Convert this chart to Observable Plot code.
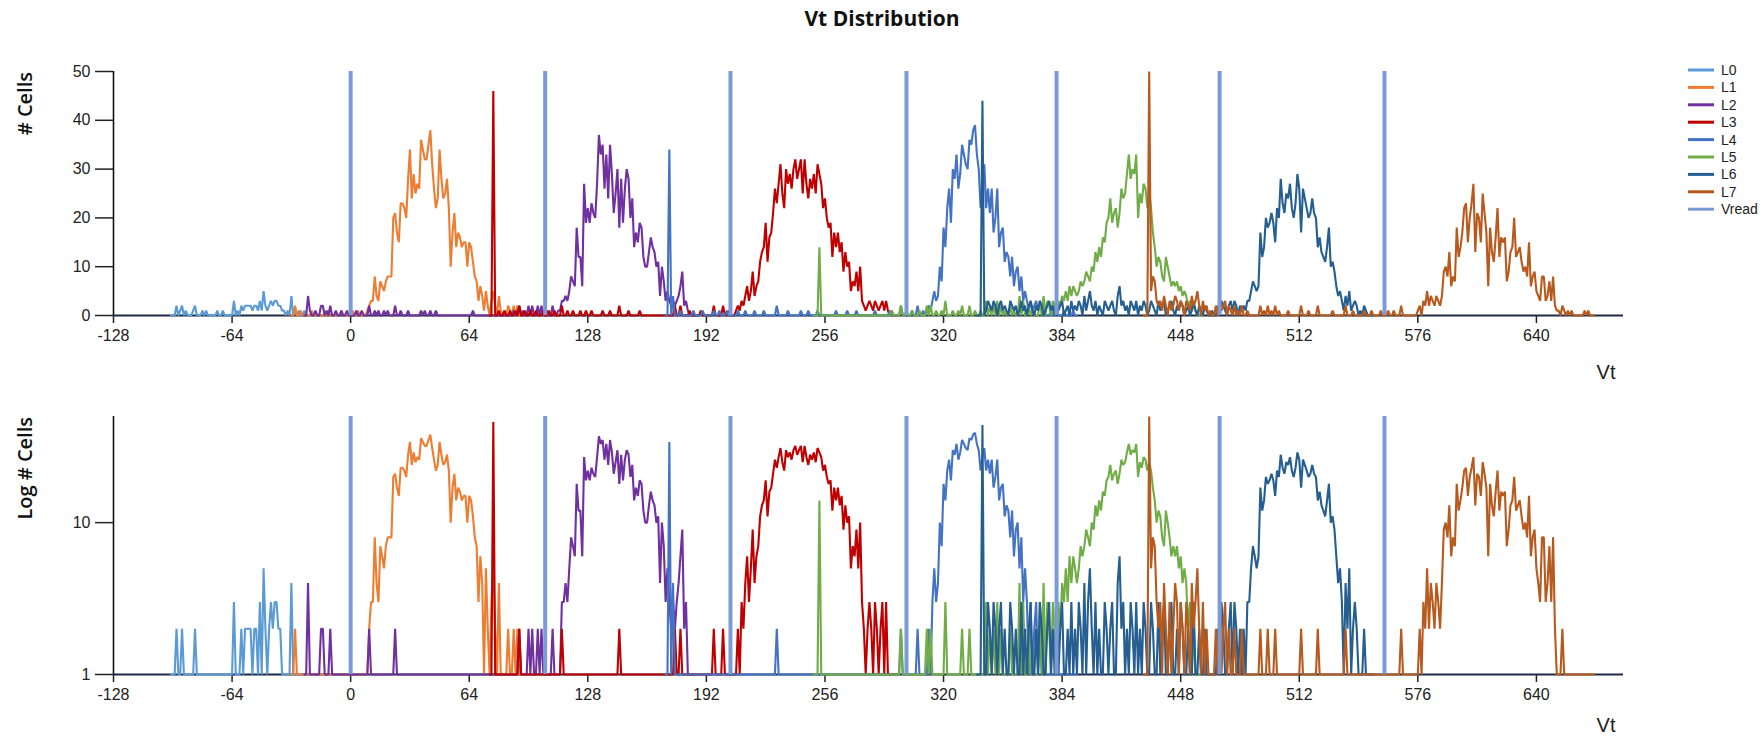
<!DOCTYPE html>
<html>
<head>
<meta charset="utf-8">
<script src="https://cdn.jsdelivr.net/npm/d3@7"></script>
<script src="https://cdn.jsdelivr.net/npm/@observablehq/plot@0.6"></script>
<style>
  body { margin: 0; background: #fff; }
  #wrap { position: relative; width: 1764px; height: 738px; overflow: hidden; background: #fff; }
  #top, #bot, #overlay { position: absolute; left: 0; }
  #top { top: 0; }
  #bot { top: 380px; }
  #overlay { top: 0; pointer-events: none; }
</style>
</head>
<body>
<div id="wrap"><div id="top"></div><div id="bot"></div><div id="overlay"></div></div>
<script>
// ---------------- DATA ----------------
const titleText = "Vt Distribution";
const yLabelTop = "# Cells";
const yLabelBottom = "Log # Cells";
const xLabel = "Vt";
const xTicks = [-128, -64, 0, 64, 128, 192, 256, 320, 384, 448, 512, 576, 640];
const yTicksLinear = [0, 10, 20, 30, 40, 50];
const yTicksLog = [1, 10];
const levels = ["L0", "L1", "L2", "L3", "L4", "L5", "L6", "L7"];
const levelColors = ["#5b9bd5", "#ed7d31", "#7030a0", "#c00000", "#4472c4", "#70ad47", "#255e91", "#b85a1e"];
const vreadName = "Vread";
const vreadColor = "#7b9bd6";
const vreadPositions = [0, 105, 205, 300, 381, 469, 558];

// each level: range of Vt, dense counts (start, values), isolated counts [vt, count]
const L0_range = [-97, -22];
const L0_start = -95;
const L0_counts = [0,2,0,1,2,0,1,0,0,0, 1,2,0,0,0,1,0,1,0,0, 0,0,0,1,0,0,1,0,0,0,
  0,0,3,0,1,0,2,1,2,2, 2,2,1,2,2,1,3,1,5,2, 1,2,3,2,3,3,2,2,1,1, 0,1,0,4,0,1,0,1,0,0, 1,0];
const L0_isolated = [];

const L1_range = [-32, 94];
const L1_start = 8;
const L1_counts = [0,1,2,3,3,8,4,3,7,6, 5,7,8,8,8,20,21,17,15,23, 23,22,20,28,34,24,29,25,27,26,
  36,34,32,32,35,38,31,26,22,24, 34,28,24,25,28,22,10,17,21,14, 17,16,14,15,15,10,15,14,11,8,
  7,3,6,4,1,5,2,0,3,5, 2,0,4,1,0,1,0,2,1,0, 2,0,2,0,0];
const L1_isolated = [[-30,2],[-27,1],[-21,1],[-12,1],[-5,1],[1,1],[4,1]];

const L2_range = [-25, 186];
const L2_start = 112;
const L2_counts = [1,1,3,3,4,3,5,8,7,6, 18,12,12,6,27,19,22,19,23,21, 20,27,37,33,35,26,33,24,35,29,
  21,25,30,18,28,19,26,30,28,20, 24,14,17,15,19,18,12,10,10,13, 16,14,13,10,11,4,10,7,3,5,
  3,2,3,2,3,4,6,9,2,3, 1,0];
const L2_isolated = [[-23,4],[-22,1],[-19,1],[-16,2],[-15,2],[-13,1],[-11,2],[-8,1],[-5,1],[-2,1],
  [3,1],[6,1],[10,2],[13,1],[15,1],[18,1],[20,1],[24,2],[27,1],[31,1],[38,1],[40,1],[43,1],[46,1],
  [66,1],[88,1],[91,2],[93,1],[96,2],[98,2],[101,2],[103,2],[106,1],[109,2]];

const L3_range = [75, 295];
const L3_start = 207;
const L3_counts = [0,1,2,1,3,2,4,6,3,5, 9,4,6,7,11,13,14,19,11,16, 17,21,26,23,27,31,25,22,30,27,
  29,26,30,32,28,30,32,25,32,27, 24,28,26,29,25,31,29,27,22,24, 20,18,19,12,17,14,17,13,15,9,
  13,10,11,5,7,6,9,5,10,3, 2,1,2,3,2,1,3,2,1,2, 3,1,3,1,0,1,0];
const L3_isolated = [[77,46],[80,1],[83,1],[86,1],[89,1],[91,2],[94,1],[97,1],[100,1],[104,1],
  [107,1],[110,1],[114,2],[117,1],[120,1],[124,1],[127,1],[130,1],[136,1],[140,1],[145,2],[150,1],
  [156,1],[175,2],[178,2],[183,1],[189,1],[196,2],[201,2],[204,1]];

const L4_range = [170, 392];
const L4_start = 309;
const L4_counts = [1,0,1,2,1,3,5,3,4,10, 7,18,14,22,26,19,30,28,33,26, 29,35,33,31,30,36,35,38,39,33,
  30,22,27,31,22,26,21,26,17,20, 26,14,17,18,11,13,12,8,12,6, 9,10,5,8,3,5,3,1,3,1, 2,3,1,2,1,2,0];
const L4_isolated = [[172,34],[174,4],[178,1],[185,1],[190,1],[196,1],[199,1],[203,1],[209,1],
  [213,1],[218,1],[223,1],[230,2],[236,1],[243,1],[247,1],[252,1],[262,1],[268,1],[273,1],[283,1],
  [291,1],[297,2],[303,1],[306,2],[378,1],[381,2],[385,1],[390,1]];

const L5_range = [250, 460];
const L5_start = 379;
const L5_counts = [3,2,1,3,2,4,3,5,3,6, 4,6,5,4,5,7,6,7,9,8, 7,10,9,13,11,14,12,16,15,19,
  20,24,19,21,22,18,21,26,24,25, 29,33,28,30,29,33,20,25,23,27, 26,22,25,22,17,14,10,12,11,8,
  7,12,10,8,6,7,6,7,5,6, 4,5,4,2,3,1,2,1,0];
const L5_isolated = [[253,14],[292,1],[297,2],[300,1],[303,1],[307,1],[311,2],[313,2],[316,1],
  [319,1],[321,3],[325,1],[328,1],[330,2],[334,2],[337,1],[340,1],[343,3],[345,2],[347,2],[349,3],
  [351,2],[353,1],[356,2],[358,1],[361,4],[363,3],[366,2],[368,1],[372,3],[374,4],[376,3],[377,2]];

const L6_range = [338, 552];
const L6_start = 342;
const L6_counts = [0,1,3,2,1,3,2,0,2,3, 1,2,1,0,3,2,1,2,0,1, 3,1,2,0,2,3,1,0,2,1,
  3,2,0,1,2,3,1,2,0,3, 1,2,3,0,1,2,0,3,1,2, 1,3,2,0,4,1,3,5,2,1, 3,0,2,1,0,3,2,1,2,3,
  1,0,4,6,2,3,1,2,0,3, 2,1,3,0,2,1,3,2,0,1, 3,2,1,0,3,1,2,3,0,1, 2,3,1,0,2,1,3,2,0,1,
  2,0,1,3,1,0,2,1,0,2, 1,0,0,1,0,0,2,0,3,2, 1,0,2,3,1,3,2,0,2,1, 2,
  1,3,3,5,7,6,5,6,17, 12,14,20,18,19,21,19,15,22,20, 28,23,21,25,24,27,22,20,23,29,
  26,17,26,24,22,20,21,24,21,20, 14,16,13,12,11,14,18,10,11,9, 6,4,5,3,1,4,2,5,1,2, 3,2,0,1,0,2,1,0];
const L6_isolated = [[341,44]];

const L7_range = [428, 671];
const L7_start = 431;
const L7_counts = [50,5,8,7,3,2,3,1,4,2, 0,3,1,2,4,3,1,3,2,0, 3,2,1,4,2,3,5,2,0,3,
  1,2,0,1,0,0,2,0,3,1, 2,3,0,2,1,0,2,0,1,0, 2,0,0,1];
const L7_body_start = 576;
const L7_body = [1,2,0,3,2,5,2,4,3,2, 4,3,2,4,9,10,8,13,6,8, 7,18,12,14,17,22,23,15,20,23,
  27,13,21,20,15,25,21,17,6,18, 13,11,16,22,12,16,15,16,7,9, 13,14,20,12,13,14,11,9,10,8,
  15,6,8,9,5,4,3,8,8,3, 4,7,3,8,2,1,1,0,2,1, 0,1,0,1,0,0,0,0,0,0, 1,0,1,0];
const L7_isolated = [[491,2],[493,1],[495,2],[497,1],[499,2],[501,1],[506,1],[513,2],[517,1],
  [522,2],[530,1],[537,2],[541,1],[547,1],[551,1],[556,1],[560,1],[563,1],[567,2]];

// ---------------- TABLE ----------------
function build(name, range, segments, isolated) {
  const m = new Map();
  for (const [start, vals] of segments) vals.forEach((v, i) => m.set(start + i, v));
  for (const [x, v] of isolated) m.set(x, v);
  const out = [];
  for (let x = range[0]; x <= range[1]; x++) out.push({level: name, vt: x, count: m.has(x) ? m.get(x) : 0});
  return out;
}
const seriesRows = [
  build("L0", L0_range, [[L0_start, L0_counts]], L0_isolated),
  build("L1", L1_range, [[L1_start, L1_counts]], L1_isolated),
  build("L2", L2_range, [[L2_start, L2_counts]], L2_isolated),
  build("L3", L3_range, [[L3_start, L3_counts]], L3_isolated),
  build("L4", L4_range, [[L4_start, L4_counts]], L4_isolated),
  build("L5", L5_range, [[L5_start, L5_counts]], L5_isolated),
  build("L6", L6_range, [[L6_start, L6_counts]], L6_isolated),
  build("L7", L7_range, [[L7_start, L7_counts], [L7_body_start, L7_body]], L7_isolated)
];

const W = 1764;
const common = {
  width: W,
  marginLeft: 113,
  marginRight: 141,
  x: {domain: [-128, 687]},
  color: {domain: levels, range: levelColors},
  style: {fontFamily: "'Liberation Sans', Arial, sans-serif", fontSize: "16px", color: "#222", background: "transparent", overflow: "visible"}
};

function panel(isLog) {
  const yBase = isLog ? 1 : 0;
  const marks = [
    Plot.axisX({ticks: xTicks, tickSize: 8, tickPadding: 6, tickFormat: d => String(d), label: null, strokeWidth: 1.5}),
    Plot.axisY({ticks: isLog ? yTicksLog : yTicksLinear, tickSize: 18, tickPadding: 5, tickFormat: d => String(d), label: null, strokeWidth: 1.5}),
    Plot.ruleX([-128], {y1: yBase, y2: 50, stroke: "#111", strokeWidth: 1.6}),
    Plot.ruleY([yBase], {stroke: "#1c2a44", strokeWidth: 2})
  ];
  seriesRows.forEach((rows, i) => {
    marks.push(Plot.line(rows, {
      x: "vt",
      y: d => isLog ? Math.max(d.count, 1) : d.count,
      stroke: () => levels[i],
      strokeWidth: 2.1,
      strokeLinejoin: "miter",
      curve: "linear"
    }));
  });
  marks.push(Plot.ruleX(vreadPositions, {y1: yBase, y2: 50, stroke: vreadColor, strokeWidth: 4}));
  return Plot.plot({
    ...common,
    height: isLog ? 358 : 380,
    marginTop: isLog ? 36 : 71,
    marginBottom: isLog ? 64 : 65,
    y: isLog ? {type: "log", domain: [1, 50]} : {domain: [0, 50]},
    marks
  });
}

document.getElementById("top").appendChild(panel(false));
document.getElementById("bot").appendChild(panel(true));

// ---------------- TEXT + LEGEND ----------------
const svg = d3.select("#overlay").append("svg").attr("width", W).attr("height", 738)
  .style("font-family", "'Liberation Sans', Arial, sans-serif");

svg.append("text").attr("x", 882).attr("y", 26).attr("text-anchor", "middle")
  .style("font-family", "'Open Sans', sans-serif").style("font-weight", 700).style("font-size", "21px")
  .attr("fill", "#111").text(titleText);

[[yLabelTop, 72], [yLabelBottom, 417]].forEach(([t, y]) => {
  svg.append("text").attr("transform", `translate(32,${y}) rotate(-90)`).attr("text-anchor", "end")
    .style("font-family", "'Open Sans', sans-serif").style("font-weight", 600).style("font-size", "20px")
    .attr("fill", "#111").text(t);
});

[379, 732].forEach(y => {
  svg.append("text").attr("x", 1606).attr("y", y).attr("text-anchor", "middle")
    .style("font-size", "20px").attr("fill", "#222").text(xLabel);
});

const legendNames = [...levels, vreadName];
const legendColors = [...levelColors, vreadColor];
legendNames.forEach((n, i) => {
  const y = 70 + i * 17.4;
  svg.append("line").attr("x1", 1688).attr("x2", 1714).attr("y1", y).attr("y2", y)
    .attr("stroke", legendColors[i]).attr("stroke-width", 3);
  svg.append("text").attr("x", 1721).attr("y", y + 5).style("font-size", "14px").attr("fill", "#222").text(n);
});
</script>
</body>
</html>
